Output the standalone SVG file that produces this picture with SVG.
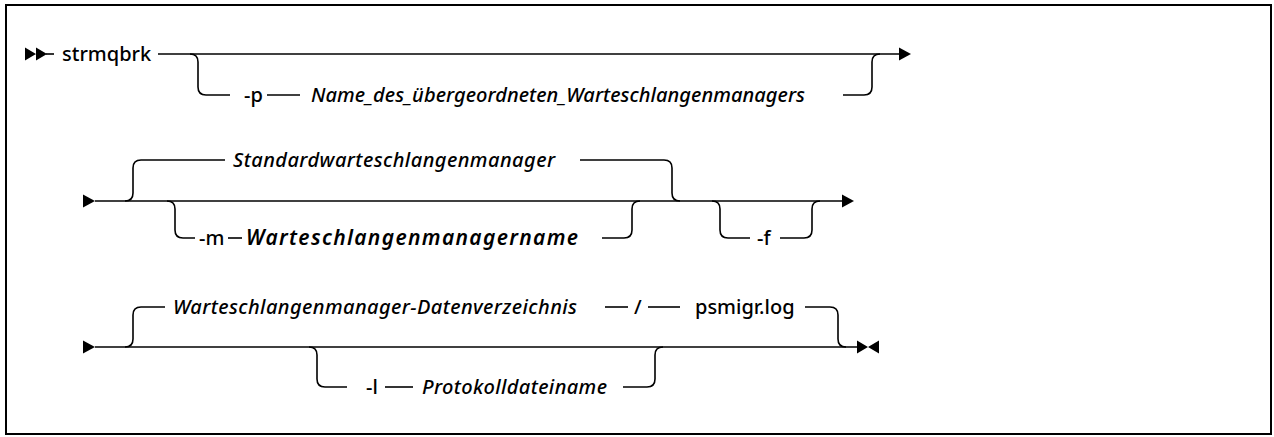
<svg xmlns="http://www.w3.org/2000/svg" width="1274" height="437" viewBox="0 0 1274 437">
  <style>
    .ln { fill: none; stroke: #000; stroke-width: 1.6; }
    .ah { fill: #000; stroke: none; }
    .kw { font-family: "Noto Sans", "Liberation Sans", sans-serif; font-size: 20px; font-weight: 500; fill: #000; }
    .var { font-family: "Noto Sans", "Liberation Sans", sans-serif; font-size: 20px; font-weight: 500; font-style: italic; fill: #000; }
    .strong { font-size: 21px; font-weight: 600; }
  </style>
  <rect x="6" y="5" width="1265" height="429" fill="#fff" stroke="#000" stroke-width="2"/>

  <g id="connectors">
    <!-- row 1 -->
    <path class="ah" d="M25,47.5 L36,54 L25,60.5 Z M36,47.5 L47,54 L36,60.5 Z"/>
    <path class="ln" d="M46,54 H54"/>
    <path class="ln" d="M158,54 H900"/>
    <path class="ah" d="M899,47.5 L911,54 L899,60.5 Z"/>
    <path class="ln" d="M190,54 Q198,54 198,62 V87 Q198,95 206,95 H230"/>
    <path class="ln" d="M267,95 H300"/>
    <path class="ln" d="M843,95 H864 Q872,95 872,87 V62 Q872,54 880,54"/>

    <!-- row 2 -->
    <path class="ah" d="M83,194.5 L95,201 L83,207.5 Z"/>
    <path class="ln" d="M95,201 H843"/>
    <path class="ah" d="M842,194.5 L854,201 L842,207.5 Z"/>
    <path class="ln" d="M125,201 Q133,201 133,193 V168 Q133,160 141,160 H225"/>
    <path class="ln" d="M580,160 H664 Q672,160 672,168 V193 Q672,201 680,201"/>
    <path class="ln" d="M167,201 Q175,201 175,209 V230 Q175,238 183,238 H195"/>
    <path class="ln" d="M228,238 H242"/>
    <path class="ln" d="M602,238 H624 Q632,238 632,230 V209 Q632,201 640,201"/>
    <path class="ln" d="M712,201 Q720,201 720,209 V230 Q720,238 728,238 H750"/>
    <path class="ln" d="M780,238 H804 Q812,238 812,230 V209 Q812,201 820,201"/>

    <!-- row 3 -->
    <path class="ah" d="M83,340.5 L95,347 L83,353.5 Z"/>
    <path class="ln" d="M95,347 H858"/>
    <path class="ah" d="M857,340.5 L868,347 L857,353.5 Z M879,340.5 L868,347 L879,353.5 Z"/>
    <path class="ln" d="M125,347 Q133,347 133,339 V315 Q133,307 141,307 H165"/>
    <path class="ln" d="M605,307 H628"/>
    <path class="ln" d="M648,307 H680"/>
    <path class="ln" d="M805,307 H830 Q838,307 838,315 V339 Q838,347 846,347"/>
    <path class="ln" d="M309,347 Q317,347 317,355 V379 Q317,387 325,387 H347"/>
    <path class="ln" d="M385,387 H413"/>
    <path class="ln" d="M623,387 H647 Q655,387 655,379 V355 Q655,347 663,347"/>
  </g>

  <g id="cmd-strmqbrk"><text class="kw" x="62" y="61">strmqbrk</text></g>
  <g id="opt-p">
    <text class="kw" x="244" y="102">-p</text>
    <text class="var" x="311" y="102" textLength="494">Name_des_übergeordneten_Warteschlangenmanagers</text>
  </g>
  <g id="default-qmgr"><text class="var" x="233" y="167" textLength="322">Standardwarteschlangenmanager</text></g>
  <g id="opt-m">
    <text class="kw" x="199" y="245">-m</text>
    <text class="var strong" x="246" y="245" textLength="332">Warteschlangenmanagername</text>
  </g>
  <g id="opt-f"><text class="kw" x="757" y="245">-f</text></g>
  <g id="default-log">
    <text class="var" x="173" y="314" textLength="404">Warteschlangenmanager-Datenverzeichnis</text>
    <text class="kw" x="634" y="314">/</text>
    <text class="kw" x="695" y="314">psmigr.log</text>
  </g>
  <g id="opt-l">
    <text class="kw" x="366" y="394">-l</text>
    <text class="var" x="422" y="394" textLength="185">Protokolldateiname</text>
  </g>
</svg>
